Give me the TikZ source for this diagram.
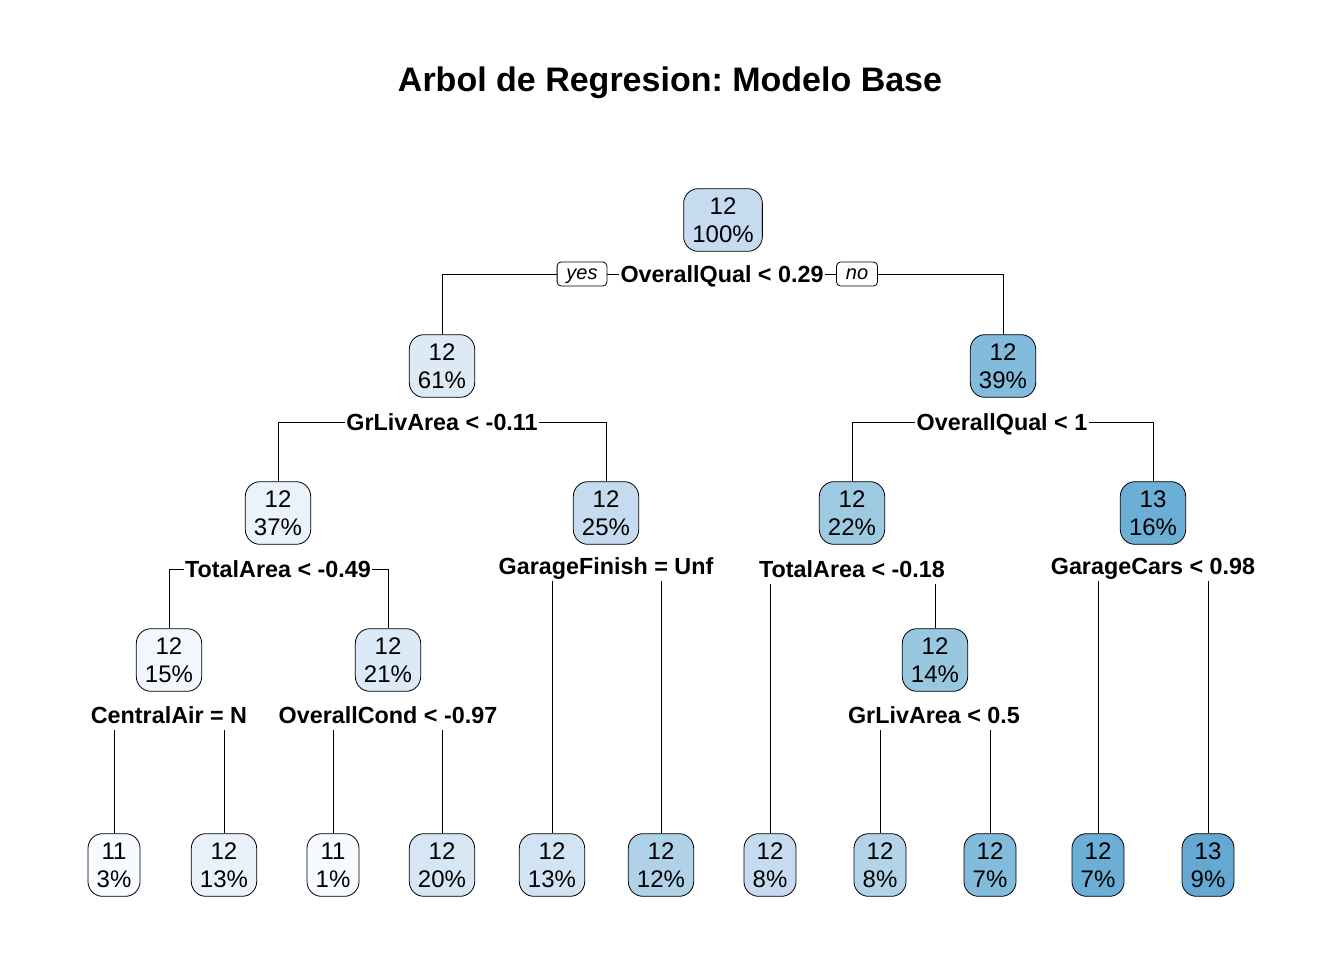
\documentclass[tikz,border=0pt]{standalone}
\usepackage{fontspec}
\setmainfont{Liberation Sans}
\usepackage{xcolor}
\frenchspacing
% Blues palette for the fitted values
\definecolor{blueA}{RGB}{198,219,239}
\definecolor{blueB}{RGB}{221,234,246}
\definecolor{blueC}{RGB}{130,187,219}
\definecolor{blueD}{RGB}{234,242,251}
\definecolor{blueE}{RGB}{157,202,225}
\definecolor{blueF}{RGB}{107,174,214}
\definecolor{blueG}{RGB}{242,247,253}
\definecolor{blueH}{RGB}{220,233,246}
\definecolor{blueI}{RGB}{152,199,224}
\definecolor{blueJ}{RGB}{247,251,255}
\definecolor{blueK}{RGB}{233,242,251}
\definecolor{blueL}{RGB}{214,230,244}
\definecolor{blueM}{RGB}{210,227,243}
\definecolor{blueN}{RGB}{176,210,232}
\definecolor{blueO}{RGB}{179,211,232}
\definecolor{blueP}{RGB}{101,169,211}

\tikzset{
  treenode/.style={draw, line width=0.6pt, rounded corners=11pt, align=center,
    minimum height=47pt, inner xsep=6.5pt, inner ysep=1pt,
    font=\fontsize{18}{21}\selectfont},
  splitlabel/.style={anchor=base, inner sep=1pt, text height=16pt, text depth=4pt,
    font=\bfseries\fontsize{17.5}{20}\selectfont},
  yesno/.style={draw, line width=0.6pt, rounded corners=3pt, inner xsep=7pt,
    inner ysep=1pt, minimum height=18pt, text height=10.5pt, text depth=3pt,
    font=\itshape\fontsize{15}{17}\selectfont},
  branch/.style={line width=0.6pt}
}

\begin{document}
\begin{tikzpicture}[x=0.75pt, y=-0.75pt]
  \useasboundingbox (0,0) rectangle (1344,960);

  \node[font=\bfseries\fontsize{25.5}{30}\selectfont] (title) at (670,83) {Arbol de Regresion: Modelo Base};

  % internal nodes
  \node[treenode, fill=blueA] (n1) at (723,220) {12\\100\%};
  \node[treenode, fill=blueB] (n2) at (442,366) {12\\61\%};
  \node[treenode, fill=blueC] (n3) at (1003,366) {12\\39\%};
  \node[treenode, fill=blueD] (n4) at (278,513) {12\\37\%};
  \node[treenode, fill=blueA] (n5) at (606,513) {12\\25\%};
  \node[treenode, fill=blueE] (n6) at (852,513) {12\\22\%};
  \node[treenode, fill=blueF] (n7) at (1153,513) {13\\16\%};
  \node[treenode, fill=blueG] (n8) at (169,660) {12\\15\%};
  \node[treenode, fill=blueH] (n9) at (388,660) {12\\21\%};
  \node[treenode, fill=blueI] (n13) at (935,660) {12\\14\%};

  % leaves
  \node[treenode, fill=blueJ] (n16) at (114,865) {11\\3\%};
  \node[treenode, fill=blueK] (n17) at (224,865) {12\\13\%};
  \node[treenode, fill=blueJ] (n18) at (333,865) {11\\1\%};
  \node[treenode, fill=blueL] (n19) at (442,865) {12\\20\%};
  \node[treenode, fill=blueM] (n10) at (552,865) {12\\13\%};
  \node[treenode, fill=blueN] (n11) at (661,865) {12\\12\%};
  \node[treenode, fill=blueA] (n12) at (770,865) {12\\8\%};
  \node[treenode, fill=blueO] (n26) at (880,865) {12\\8\%};
  \node[treenode, fill=blueC] (n27) at (990,865) {12\\7\%};
  \node[treenode, fill=blueF] (n14) at (1098,865) {12\\7\%};
  \node[treenode, fill=blueP] (n15) at (1208,865) {13\\9\%};

  % split labels (placed at their baselines)
  \node[splitlabel] (s1) at (722,282) {OverallQual < 0.29};
  \node[splitlabel] (s2) at (442,430) {GrLivArea < -0.11};
  \node[splitlabel] (s3) at (1002,430) {OverallQual < 1};
  \node[splitlabel] (s4) at (278,577) {TotalArea < -0.49};
  \node[splitlabel] (s5) at (606,574) {GarageFinish = Unf};
  \node[splitlabel] (s6) at (852,577) {TotalArea < -0.18};
  \node[splitlabel] (s7) at (1153,574) {GarageCars < 0.98};
  \node[splitlabel] (s8) at (169,723) {CentralAir = N};
  \node[splitlabel] (s9) at (388,723) {OverallCond < -0.97};
  \node[splitlabel] (s13) at (934,723) {GrLivArea < 0.5};

  \node[yesno] (yes) at (582,274) {yes};
  \node[yesno] (no) at (857,274) {no};

  % branches
  \draw[branch] (yes.west) -| (n2.north);
  \draw[branch] (yes.east) -- (s1.west);
  \draw[branch] (s1.east) -- (no.west);
  \draw[branch] (no.east) -| (n3.north);

  \draw[branch] (s2.west) -| (n4.north);
  \draw[branch] (s2.east) -| (n5.north);
  \draw[branch] (s3.west) -| (n6.north);
  \draw[branch] (s3.east) -| (n7.north);
  \draw[branch] (s4.west) -| (n8.north);
  \draw[branch] (s4.east) -| (n9.north);

  \draw[branch] (s5.south -| n10.north) -- (n10.north);
  \draw[branch] (s5.south -| n11.north) -- (n11.north);
  \draw[branch] (s6.south -| n12.north) -- (n12.north);
  \draw[branch] (s6.south -| n13.north) -- (n13.north);
  \draw[branch] (s7.south -| n14.north) -- (n14.north);
  \draw[branch] (s7.south -| n15.north) -- (n15.north);
  \draw[branch] (s8.south -| n16.north) -- (n16.north);
  \draw[branch] (s8.south -| n17.north) -- (n17.north);
  \draw[branch] (s9.south -| n18.north) -- (n18.north);
  \draw[branch] (s9.south -| n19.north) -- (n19.north);
  \draw[branch] (s13.south -| n26.north) -- (n26.north);
  \draw[branch] (s13.south -| n27.north) -- (n27.north);
\end{tikzpicture}
\end{document}
